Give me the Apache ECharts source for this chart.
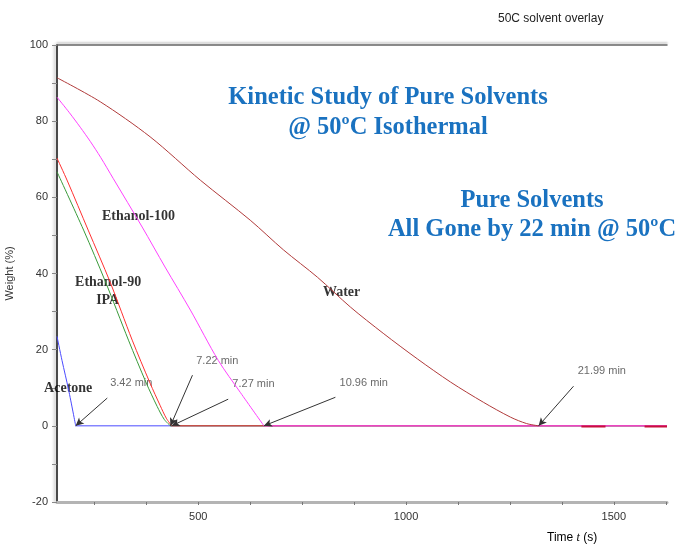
<!DOCTYPE html>
<html>
<head>
<meta charset="utf-8">
<script src="https://cdn.jsdelivr.net/npm/echarts@6/dist/echarts.min.js"></script>
<style>
html,body{margin:0;padding:0;background:#fff;}
#c{width:695px;height:549px;}
</style>
</head>
<body>
<div id="c"></div>
<script>
// ---- data (time s, weight %) ----
const acetone   = [[160,23.5],[172,17.2],[188,9.4],[205,0]];
const ethanol90 = [[160,66.7],[224,51.4],[276,38.0],[332,22.5],[375,11.2],[401,5.1],[418,1.7],[433,0]];
const ipa       = [[160,70.3],[185,64.3],[235,51.4],[288,37.7],[341,22.5],[384,11.2],[408,5.4],[423,2.0],[436,0]];
const ethanol100= [[160,86.3],[190,82.2],[216,78.4],[240,74.7],[265,70.5],[295,65.0],[365,52.2],[420,41.7],[481,30.4],[548,17.2],[601,8.8],[658,0]];
const water     = [[160,91.4],[264,85.1],[384,75.9],[505,64.5],[625,54.0],[705,46.2],[787,39.0],[866,31.2],[945,24.3],[1027,17.6],[1107,11.5],[1186,6.2],[1251,2.3],[1290,0.6],[1319,0]];
// flat residue after each solvent is gone
const acetoneRest   = [[205,0],[1628,0]];
const ethanol90Rest = [[433,0],[1628,0]];
const ipaRest       = [[436,0],[1628,0]];
const ethanol100Rest= [[658,0],[1628,0]];
const waterRest     = [[1422,-0.15],[1480,-0.15],[1520,null],[1574,-0.15],[1628,-0.15]];

const xTicks  = [250,375,500,625,750,875,1000,1125,1250,1375,1500,1625];
const xLabels = [500,1000,1500];
const yTicks  = [-20,-10,0,10,20,30,40,50,60,70,80,90,100];

// end-point annotations: [label pos t, label pos v, text]
const timeLabels = [[288,11.2,'3.42 min'],[495,17.0,'7.22 min'],[582,10.9,'7.27 min'],[840,11.2,'10.96 min'],[1413,14.3,'21.99 min']];
// arrows: [from t, from v, to t, to v]
const arrows = [[281,7.3,205,0],[486,13.3,433,0],[572,7.0,436,0],[830,7.5,658,0],[1403,10.4,1319,0]];
// solvent labels: [t, v, text]
const nameLabels = [[356,55.0,'Ethanol-100'],[283,37.7,'Ethanol-90'],[282,33.0,'IPA'],[845,35.1,'Water'],[187,9.9,'Acetone']];

const chart = echarts.init(document.getElementById('c'));
const serif = '"Liberation Serif","Times New Roman",serif';
const sans = '"Liberation Sans",Arial,sans-serif';

function lineSeries(name, data, color, width, smooth){
  return {name, type:'line', data, showSymbol:false, symbol:'none', smooth:smooth,
    lineStyle:{color, width}, itemStyle:{color}, animation:false, silent:true, connectNulls:false};
}

chart.setOption({
  animation:false,
  title:{text:'50C solvent overlay', left:493, top:8, textStyle:{fontFamily:sans, fontSize:12, fontWeight:'normal', color:'#222'}},
  grid:{left:57, right:28, top:45, bottom:47, containLabel:false, outerBoundsMode:'none'},
  xAxis:[{
    type:'value', min:160, max:1628, position:'bottom',
    axisLine:{show:true, onZero:false, lineStyle:{color:'#b4b4b4', width:3}},
    axisTick:{show:true, customValues:xTicks, length:3, lineStyle:{color:'#777', width:1}},
    axisLabel:{customValues:xLabels, formatter:v=>String(v), fontFamily:sans, fontSize:11, color:'#333', margin:9},
    splitLine:{show:false}
  },{
    type:'value', min:160, max:1628, position:'top',
    axisLine:{show:true, onZero:false, lineStyle:{color:'#666', width:1.5, shadowColor:'rgba(0,0,0,0.25)', shadowBlur:2, shadowOffsetY:-2}},
    axisTick:{show:false}, axisLabel:{show:false}, splitLine:{show:false}
  }],
  yAxis:{
    type:'value', min:-20, max:100, interval:20,
    name:'Weight (%)', nameLocation:'middle', nameGap:42,
    nameTextStyle:{fontFamily:sans, fontSize:11, color:'#333'},
    axisLine:{show:true, onZero:false, lineStyle:{color:'#111', width:1.5, shadowColor:'rgba(0,0,0,0.3)', shadowBlur:3, shadowOffsetX:-2}},
    axisTick:{show:true, customValues:yTicks, length:5, lineStyle:{color:'#888'}},
    axisLabel:{fontFamily:sans, fontSize:11, color:'#333', margin:9},
    splitLine:{show:false}
  },
  series:[
    lineSeries('Acetone', acetone, '#4a4aff', 1, 0.3),
    lineSeries('Acetone rest', acetoneRest, '#4a4aff', 1, false),
    lineSeries('Ethanol-90', ethanol90, '#3a9a3a', 1, 0.3),
    lineSeries('Ethanol-90 rest', ethanol90Rest, '#3a9a3a', 1, false),
    lineSeries('IPA', ipa, '#ff3030', 1, 0.3),
    lineSeries('IPA rest', ipaRest, '#ff3030', 1, false),
    lineSeries('Ethanol-100', ethanol100, '#ff40ff', 1, 0.3),
    lineSeries('Ethanol-100 rest', ethanol100Rest, '#ff40ff', 1, false),
    lineSeries('Water', water, '#b03a3a', 1, 0.3),
    lineSeries('Water rest', waterRest, '#c8103c', 2, false),
    {
      name:'times', type:'scatter', symbolSize:0, silent:true, animation:false,
      data: timeLabels.map(d=>({value:[d[0],d[1]], label:{formatter:d[2]}})),
      label:{show:true, position:'inside', align:'left', verticalAlign:'middle', fontFamily:sans, fontSize:11, color:'#444'},
      markLine:{
        silent:true, animation:false, symbol:['none','arrow'], symbolSize:[6,8],
        lineStyle:{color:'#333', width:1, type:'solid'}, label:{show:false},
        data: arrows.map(a=>[{coord:[a[0],a[1]]},{coord:[a[2],a[3]]}])
      }
    },
    {
      name:'names', type:'scatter', symbolSize:0, silent:true, animation:false,
      data: nameLabels.map(d=>({value:[d[0],d[1]], label:{formatter:d[2]}})),
      label:{show:true, position:'inside', align:'center', verticalAlign:'middle', fontFamily:serif, fontSize:14, fontWeight:'bold', color:'#000'}
    }
  ],
  graphic:[
    {type:'text', x:388, y:113, style:{text:'Kinetic Study of Pure Solvents\n@ 50ºC Isothermal', font:'bold 24.5px '+serif, fill:'#1a72c0', align:'center', verticalAlign:'middle', lineHeight:30}, silent:true},
    {type:'text', x:532, y:215, style:{text:'Pure Solvents\nAll Gone by 22 min @ 50ºC', font:'bold 24.5px '+serif, fill:'#1a72c0', align:'center', verticalAlign:'middle', lineHeight:29}, silent:true},
    {type:'text', x:547, y:538, style:{
      text:'{a|Time }{i|t}{a| (s)}', verticalAlign:'middle',
      rich:{a:{fontFamily:sans, fontSize:12, color:'#333'}, i:{fontFamily:serif, fontStyle:'italic', fontSize:12, color:'#333'}}
    }, silent:true},
    {type:'text', x:55, y:544, style:{text:'...', font:'8px '+sans, fill:'#999'}, silent:true}
  ]
});
</script>
</body>
</html>
